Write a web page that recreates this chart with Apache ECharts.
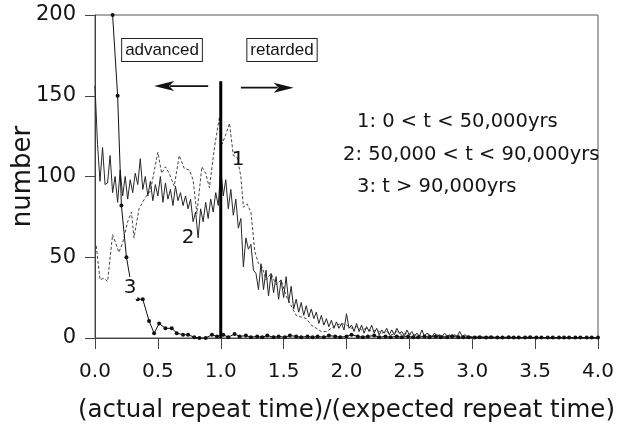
<!DOCTYPE html>
<html>
<head>
<meta charset="utf-8">
<script src="https://cdn.jsdelivr.net/npm/echarts@6/dist/echarts.min.js"></script>
<style>html,body{margin:0;padding:0;background:#fff}#c{width:621px;height:428px}</style>
</head>
<body>
<div id="c"></div>
<script>
// ---- data ----
var xTicks = [0.0, 0.5, 1.0, 1.5, 2.0, 2.5, 3.0, 3.5, 4.0];
var yTicks = [0, 50, 100, 150, 200];

// series 1 (dashed): 0 < t < 50,000 yrs
var xs1 = [0.01,0.04,0.07,0.10,0.14,0.19,0.22,0.26,0.29,0.31,0.35,0.40,0.44,0.50,0.53,0.56,0.59,0.63,0.67,0.71,0.75,0.78,0.81,0.85,0.88,0.91,0.95,0.99,1.01,1.04,1.07,1.10,1.13,1.16,1.18,1.21,1.24,1.27,1.30,1.33,1.36,1.40,1.44,1.48,1.52,1.56,1.60,1.64,1.68,1.72,1.76,1.80,1.84,1.88,1.92,1.96,2.00,2.04,2.08,2.12,2.16,2.20,2.24,2.28,2.32,2.36,2.40,2.44,2.48,2.52,2.56,2.60,2.64,2.68,2.72,2.76,2.80,2.84,2.88,2.92,2.96,3.00,3.50,4.00];
var ys1 = [57,36,37,35,64,53,59,72,78,62,80,87,91,115,102,106,102,94,113,105,104,98,77,106,102,93,118,137,120,126,133,113,112,100,81,83,78,54,46,44,36,40,33,36,26,20,14,13,12,8,6,4,4,6,8,9,8,6,7,5,6,4,5,3,4,2,4,2,3,2,2,1,2,1,2,1,1,2,1,1,1,0.5,0.3,0];

// series 2 (solid): 50,000 < t < 90,000 yrs
var xs2 = [0.00,0.02,0.04,0.06,0.08,0.10,0.12,0.14,0.16,0.18,0.20,0.22,0.24,0.26,0.28,0.30,0.32,0.34,0.36,0.38,0.40,0.42,0.44,0.46,0.48,0.50,0.52,0.54,0.56,0.58,0.60,0.62,0.64,0.66,0.68,0.70,0.72,0.74,0.76,0.78,0.80,0.82,0.84,0.86,0.88,0.90,0.92,0.94,0.96,0.98,1.00,1.02,1.04,1.06,1.08,1.10,1.12,1.14,1.16,1.18,1.20,1.22,1.24,1.26,1.28,1.30,1.32,1.34,1.36,1.38,1.40,1.42,1.44,1.46,1.48,1.50,1.52,1.54,1.56,1.58,1.60,1.62,1.64,1.66,1.68,1.70,1.72,1.74,1.76,1.78,1.80,1.82,1.84,1.86,1.88,1.90,1.92,1.94,1.96,1.98,2.00,2.02,2.04,2.06,2.08,2.10,2.12,2.14,2.16,2.18,2.20,2.22,2.24,2.26,2.28,2.30,2.32,2.34,2.36,2.38,2.40,2.42,2.44,2.46,2.48,2.50,2.52,2.54,2.56,2.58,2.60,2.62,2.64,2.66,2.68,2.70,2.72,2.74,2.76,2.78,2.80,2.82,2.84,2.86,2.88,2.90,2.92,2.94,2.96,2.98,3.00,3.50,4.00];
var ys2 = [156,120,97,118,95,96,113,90,100,84,104,88,100,86,98,90,102,95,111,92,100,88,97,85,95,88,100,84,96,86,92,82,94,85,90,82,88,80,86,72,78,62,80,72,84,74,86,78,90,82,105,88,98,80,92,76,86,68,74,44,62,55,58,42,40,30,46,30,42,26,40,28,38,24,36,25,38,22,32,18,24,16,22,14,20,13,18,12,16,9,14,8,12,7,11,6,10,6,9,5,15,6,8,4,9,4,8,3,7,4,8,3,6,2,5,3,6,2,5,2,6,3,4,1,5,2,4,1,3,1,5,1,3,2,1,3,1,2,1,3,1,2,1,2,1,4,1,2,1,1,0.5,0.3,0];

// series 3 (dots): t > 90,000 yrs
var xs3 = [0.14,0.18,0.21,0.25,0.295,0.34,0.38,0.43,0.47,0.51,0.56,0.61,0.65,0.70,0.74,0.79,0.83,0.88,0.93,0.97,1.02,1.06,1.11,1.15,1.20,1.24,1.29,1.33,1.37,1.42,1.46,1.51,1.55,1.60,1.64,1.69,1.73,1.77,1.82,1.86,1.91,1.95,2.00,2.04,2.09,2.13,2.17,2.22,2.26,2.31,2.35,2.40,2.44,2.49,2.53,2.57,2.62,2.66,2.71,2.75,2.80,2.84,2.89,2.93,2.97,3.02,3.06,3.11,3.15,3.20,3.24,3.29,3.33,3.37,3.42,3.46,3.51,3.55,3.60,3.64,3.69,3.73,3.77,3.82,3.86,3.91,3.95,4.00];
var ys3 = [200,150,82,50,30,24,24,10.5,3,9,6,6,3,2,2,0.5,0,0,2,1,2,0.5,2.5,1,1.5,0.5,1,0.5,1.5,0.5,1,0.5,1.5,1,0.5,1,0.5,1,0.5,1.5,1,0.5,1,2,1,0.5,1,1.5,0.5,1,0.5,1,0.5,1,0.5,0.5,1,0.5,1,0.5,0.5,1,0.5,0.5,0.5,0.3,0.5,0.3,0.5,0.3,0.3,0.5,0.3,0.3,0.3,0.5,0.3,0.3,0.3,0.3,0.3,0.3,0.3,0.3,0.3,0.3,0.3,0.3];

// annotation positions in data units
var vLine = [[1.0, 0], [1.0, 159]];
var arrowLeft = [[0.90, 156], [0.47, 156]];
var arrowRight = [[1.16, 155], [1.58, 155]];

function pairs(xs, ys) { return xs.map(function (x, i) { return [x, ys[i]]; }); }

var FONT = 'DejaVu Sans';
var BOXFONT = 'Liberation Sans';
var TXT = '#151515';
var chart = echarts.init(document.getElementById('c'), null, {renderer: 'canvas'});

var option = {
  animation: false,
  backgroundColor: '#fff',
  grid: {left: 95, right: 23, top: 15, bottom: 90, containLabel: false, outerBoundsMode: 'none',
         show: true, borderColor: '#555', borderWidth: 1, backgroundColor: 'transparent'},
  xAxis: {
    type: 'value', min: 0, max: 4, interval: 0.5,
    name: '(actual repeat time)/(expected repeat time)', nameLocation: 'middle', nameGap: 60, nameMoveOverlap: false,
    nameTextStyle: {fontFamily: FONT, fontSize: 24.5, color: TXT},
    axisLine: {onZero: false, lineStyle: {color: '#444', width: 1}},
    axisTick: {show: true, inside: false, length: 11, lineStyle: {color: '#444'}},
    axisLabel: {fontFamily: FONT, fontSize: 20, color: TXT, margin: 24,
      formatter: function (v) { return v.toFixed(1); }},
    splitLine: {show: false}
  },
  yAxis: {
    type: 'value', min: 0, max: 200, interval: 50,
    name: 'number', nameLocation: 'middle', nameGap: 59, nameMoveOverlap: false,
    nameTextStyle: {fontFamily: FONT, fontSize: 26, color: TXT},
    axisLine: {show: true, onZero: false, lineStyle: {color: '#444', width: 1}},
    axisTick: {show: true, inside: false, length: 10, lineStyle: {color: '#444'}},
    axisLabel: {fontFamily: FONT, fontSize: 21, color: TXT, margin: 19},
    splitLine: {show: false}
  },
  series: [
    {name: '1', type: 'line', data: pairs(xs1, ys1), showSymbol: false, symbol: 'none', clip: true,
     lineStyle: {color: '#444', width: 1, type: [3, 2]}, z: 2},
    {name: '2', type: 'line', data: pairs(xs2, ys2), showSymbol: false, symbol: 'none', clip: true,
     lineStyle: {color: '#262626', width: 1}, z: 3},
    {name: '3', type: 'line', data: pairs(xs3, ys3), symbol: 'circle', symbolSize: 4, showSymbol: true, clip: true,
     lineStyle: {color: '#111', width: 1}, itemStyle: {color: '#111'}, z: 4},
    {name: 'divide', type: 'line', data: vLine, symbol: 'none', lineStyle: {color: '#000', width: 3}, z: 5}
  ]
};
chart.setOption(option);

function px(p) { return chart.convertToPixel({gridIndex: 0}, p); }
function arrow(a, b) {
  var pa = px(a), pb = px(b);
  var dir = pb[0] > pa[0] ? 1 : -1;
  var headLen = 20, headHalf = 5;
  var base = pb[0] - dir * headLen;
  return [
    {type: 'line', shape: {x1: pa[0], y1: pa[1], x2: base + dir * 4, y2: pb[1]}, style: {stroke: '#111', lineWidth: 1.8}, z: 10},
    {type: 'polygon', shape: {points: [[pb[0], pb[1]], [base, pb[1] - headHalf], [base + dir * 5, pb[1]], [base, pb[1] + headHalf]]},
     style: {fill: '#111'}, z: 10}
  ];
}
function label(t, x, y, size, opts) {
  var st = {text: t, x: x, y: y, fontFamily: (opts && opts.font) || FONT, fontSize: size, fill: TXT,
            align: opts && opts.align || 'left', verticalAlign: 'middle'};
  if (opts && opts.box) { st.borderColor = '#222'; st.borderWidth = 1; st.padding = [3, 3, 2, 3]; st.backgroundColor = '#fff'; }
  if (opts && opts.bg) { st.backgroundColor = '#fff'; st.padding = [1, 1, 1, 1]; }
  return {type: 'text', style: st, z: 20};
}

var g = [].concat(
  arrow(arrowLeft[0], arrowLeft[1]),
  arrow(arrowRight[0], arrowRight[1]),
  [
    label('advanced', 162, 50, 17, {box: true, align: 'center', font: BOXFONT}),
    label('retarded', 282, 50, 17, {box: true, align: 'center', font: BOXFONT}),
    label('1: 0 < t < 50,000yrs', 357, 122, 19.5),
    label('2: 50,000 < t < 90,000yrs', 343, 155, 19.5),
    label('3: t > 90,000yrs', 357, 187, 19.5),
    label('1', 238, 160, 20, {align: 'center'}),
    label('2', 188, 238, 20, {align: 'center'}),
    label('3', 130, 288, 20, {align: 'center', bg: true})
  ]
);
chart.setOption({graphic: g});
</script>
</body>
</html>
